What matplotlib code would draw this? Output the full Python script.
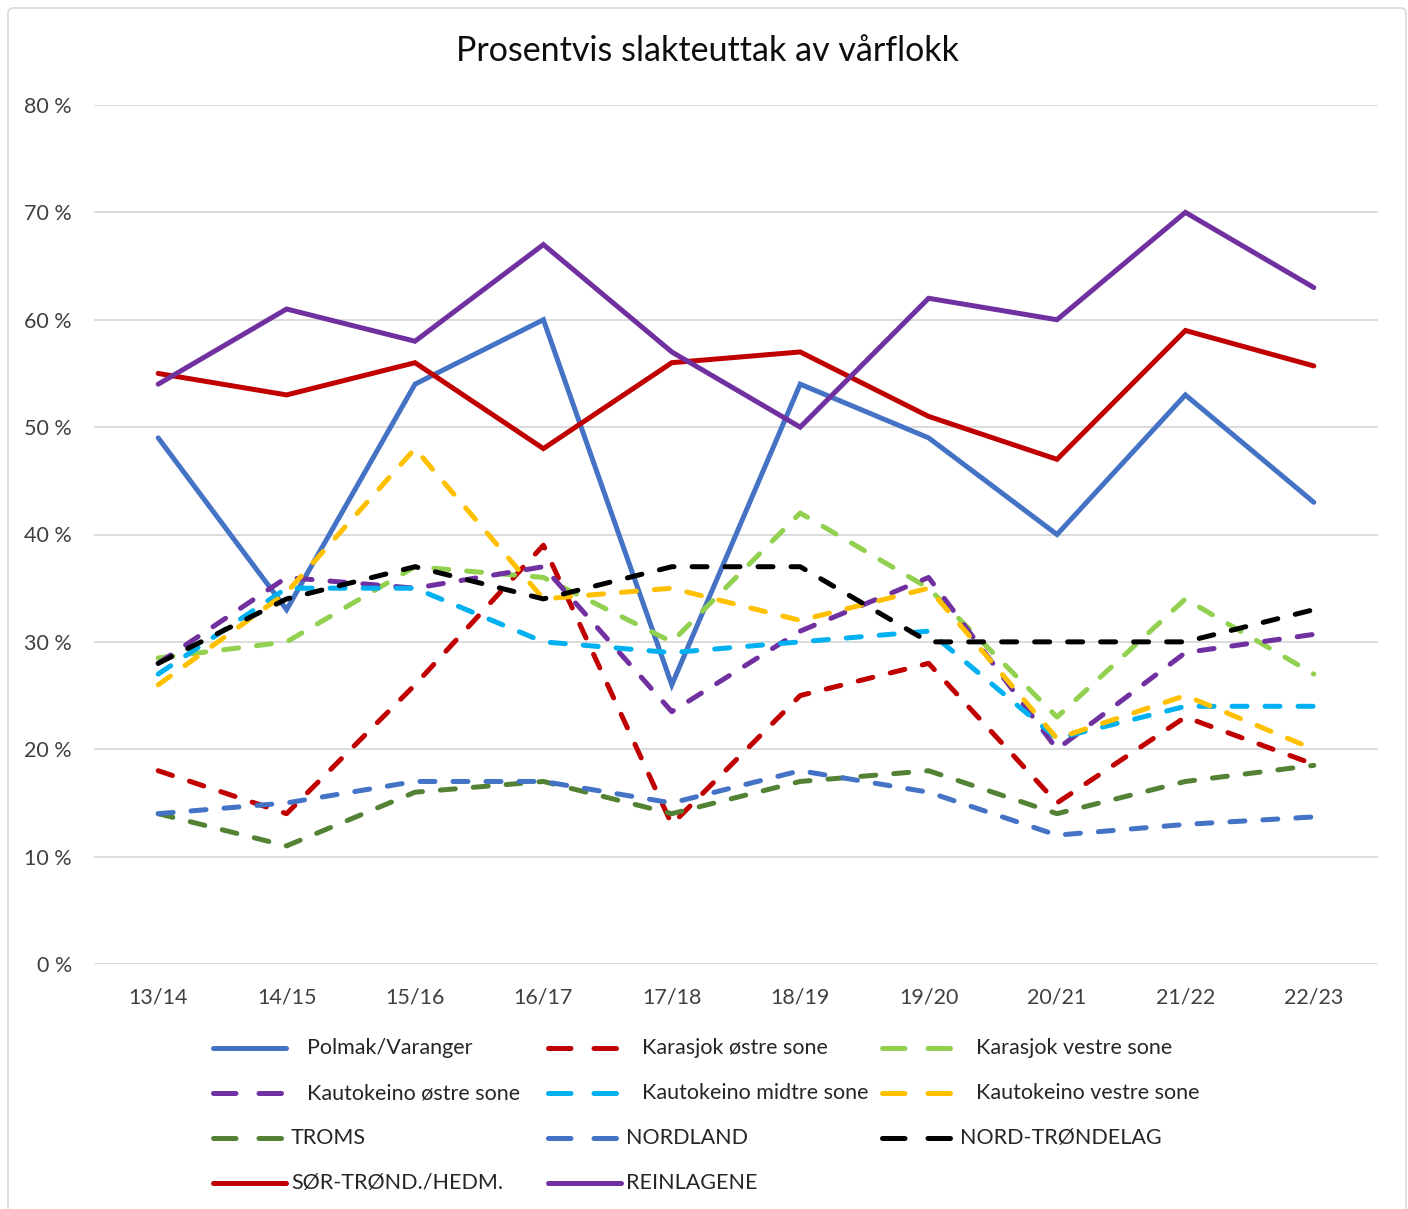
import matplotlib
matplotlib.use("Agg")
import matplotlib.pyplot as plt
from matplotlib.lines import Line2D
from matplotlib.patches import FancyBboxPatch

plt.rcParams['font.family'] = ['Lato', 'DejaVu Sans']

title = "Prosentvis slakteuttak av vårflokk"
seasons = ["13/14", "14/15", "15/16", "16/17", "17/18", "18/19", "19/20", "20/21", "21/22", "22/23"]
yticks = [0, 10, 20, 30, 40, 50, 60, 70, 80]
ytick_labels = ["0 %", "10 %", "20 %", "30 %", "40 %", "50 %", "60 %", "70 %", "80 %"]

polmak_varanger = [49, 33, 54, 60, 26, 54, 49, 40, 53, 43]
karasjok_ostre = [18, 14, 26, 39, 13, 25, 28, 15, 23, 18.6]
karasjok_vestre = [28.5, 30, 37, 36, 30, 42, 35, 23, 34, 27]
kautokeino_ostre = [28, 36, 35, 37, 23.5, 31, 36, 20, 29, 30.7]
kautokeino_midtre = [27, 35, 35, 30, 29, 30, 31, 21, 24, 24]
kautokeino_vestre = [26, 34.6, 48, 34, 35, 32, 35, 21, 25, 20]
troms = [14, 11, 16, 17, 14, 17, 18, 14, 17, 18.5]
nordland = [14, 15, 17, 17, 15, 18, 16, 12, 13, 13.7]
nord_trondelag = [28, 34, 37, 34, 37, 37, 30, 30, 30, 33]
sor_trond_hedm = [55, 53, 56, 48, 56, 57, 51, 47, 59, 55.7]
reinlagene = [54, 61, 58, 67, 57, 50, 62, 60, 70, 63]

series = [
    ("Polmak/Varanger", polmak_varanger, "#4472C4", "solid"),
    ("Karasjok østre sone", karasjok_ostre, "#C00000", "dash"),
    ("Karasjok vestre sone", karasjok_vestre, "#92D050", "dash"),
    ("Kautokeino østre sone", kautokeino_ostre, "#7030A0", "dash"),
    ("Kautokeino midtre sone", kautokeino_midtre, "#00B0F0", "dash"),
    ("Kautokeino vestre sone", kautokeino_vestre, "#FFC000", "dash"),
    ("TROMS", troms, "#548235", "dash"),
    ("NORDLAND", nordland, "#4472C4", "dash"),
    ("NORD-TRØNDELAG", nord_trondelag, "#000000", "dash"),
    ("SØR-TRØND./HEDM.", sor_trond_hedm, "#C00000", "solid"),
    ("REINLAGENE", reinlagene, "#7030A0", "solid"),
]

W, H = 1408, 1209
fig = plt.figure(figsize=(W / 100, H / 100), dpi=100)

# chart border
border = FancyBboxPatch((8 / W, -0.02), (1398 / W), (1201 / H) + 0.02,
                        boxstyle="round,pad=0,rounding_size=0.004",
                        transform=fig.transFigure, fill=False,
                        edgecolor="#D9D9D9", linewidth=1.2)
fig.add_artist(border)

ax_left, ax_right, ax_top, ax_bottom = 94, 1378, 105, 964
ax = fig.add_axes([ax_left / W, (H - ax_bottom) / H, (ax_right - ax_left) / W, (ax_bottom - ax_top) / H])

x = list(range(len(seasons)))
lw = 3.6
for name, vals, color, style in series:
    if style == "solid":
        ax.plot(x, vals, color=color, lw=lw, solid_joinstyle="miter", solid_capstyle="round", zorder=3)
    else:
        ax.plot(x, vals, color=color, lw=lw, dashes=(3.0, 3.6), dash_capstyle="round",
                dash_joinstyle="round", zorder=3)

ax.set_xlim(-0.5, len(seasons) - 0.5)
ax.set_ylim(0, 80)
ax.set_yticks(yticks)
ax.set_yticklabels(ytick_labels)
ax.set_xticks(x)
ax.set_xticklabels(seasons)
ax.grid(axis="y", color="#D9D9D9", lw=1.3, zorder=0)
ax.set_axisbelow(True)
for s in ax.spines.values():
    s.set_visible(False)
ax.tick_params(axis="both", length=0, labelsize=15.5, colors="#404040")
ax.tick_params(axis="y", pad=16)
ax.tick_params(axis="x", pad=17)

fig.text(708 / W, 1 - 51 / H, title, ha="center", va="center", fontsize=24.5, color="#0d0d0d")

# legend (manual layout, 3 columns x 4 rows)
col_x = [213, 548, 882]
row_y = [1048, 1093, 1138, 1183]
for i, (name, vals, color, style) in enumerate(series):
    r, c = divmod(i, 3)
    x0 = col_x[c]
    y0 = 1 - row_y[r] / H
    hl = 73
    if style == "solid":
        ln = Line2D([x0 / W, (x0 + hl) / W], [y0, y0], transform=fig.transFigure,
                    color=color, lw=lw, solid_capstyle="round")
    else:
        ln = Line2D([x0 / W, (x0 + hl) / W], [y0, y0], transform=fig.transFigure,
                    color=color, lw=lw, dashes=(4.5, 4.6), dash_capstyle="round")
    fig.add_artist(ln)
    tx = x0 + (94 if r < 2 else 78)
    fig.text(tx / W, y0, name, ha="left", va="center", fontsize=15.5, color="#262626")

fig.savefig("out.png", dpi=100)
